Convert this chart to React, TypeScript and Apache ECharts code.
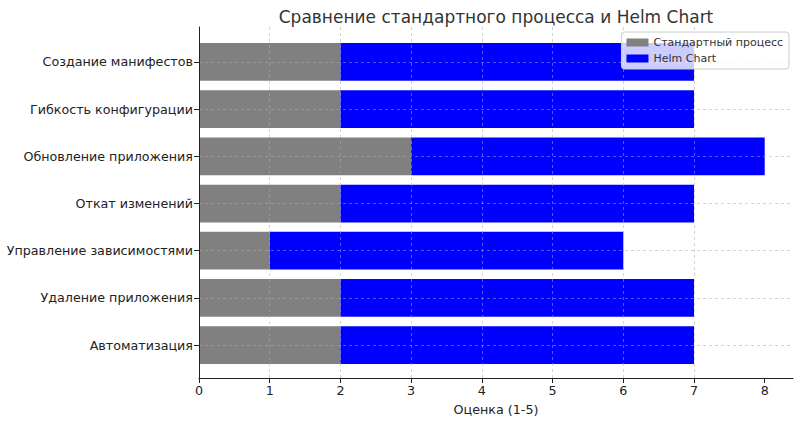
import React, { useEffect, useRef } from "react";
import * as echarts from "echarts";

const categories = [
  "Создание манифестов",
  "Гибкость конфигурации",
  "Обновление приложения",
  "Откат изменений",
  "Управление зависимостями",
  "Удаление приложения",
  "Автоматизация",
];
const standardValues = [2, 2, 3, 2, 1, 2, 2];
const helmValues = [5, 5, 5, 5, 5, 5, 5];
const seriesNames = ["Стандартный процесс", "Helm Chart"];
const xTicks = [0, 1, 2, 3, 4, 5, 6, 7, 8];
const titleText = "Сравнение стандартного процесса и Helm Chart";
const xAxisName = "Оценка (1-5)";

const FONT = "DejaVu Sans";

export default function App() {
  const ref = useRef<HTMLDivElement>(null);
  useEffect(() => {
    document.body.style.margin = "0";
    const chart = echarts.init(ref.current!, null, { renderer: "svg" });
    const lineStyle = { type: [3, 3], color: "rgba(170,170,170,0.65)", width: 0.8 };
    chart.setOption({
      animation: false,
      backgroundColor: "#fff",
      textStyle: { fontFamily: FONT },
      title: {
        text: titleText,
        left: 491,
        textAlign: "center",
        top: 3,
        textStyle: { fontFamily: FONT, fontSize: 17, fontWeight: "normal", color: "#333" },
      },
      legend: {
        orient: "vertical",
        right: 11,
        top: 32,
        padding: [5, 6, 5, 5],
        itemWidth: 22,
        itemHeight: 8,
        itemGap: 5,
        backgroundColor: "rgba(255,255,255,0.8)",
        borderColor: "#cccccc",
        borderWidth: 1,
        borderRadius: 3,
        icon: "rect",
        textStyle: { fontFamily: FONT, fontSize: 11, color: "#333" },
        data: seriesNames,
      },
      grid: [
        { left: 199, right: 7, top: 27, bottom: 41 },
        { left: 199, right: 7, top: 61.9, bottom: 75.9 },
      ],
      xAxis: [
        {
          gridIndex: 0,
          type: "value",
          min: 0,
          max: 8.4,
          interval: 1,
          z: 3,
          name: xAxisName,
          nameLocation: "middle",
          nameGap: 25,
          nameTextStyle: { fontFamily: FONT, fontSize: 12.7, color: "#222" },
          axisLine: { show: true, lineStyle: { color: "#222", width: 1 } },
          axisTick: { show: true, length: 5, customValues: xTicks, lineStyle: { color: "#222" } },
          axisLabel: {
            fontFamily: FONT,
            fontSize: 12.7,
            color: "#222",
            margin: 6,
            customValues: xTicks,
          },
          splitLine: { show: true, showMaxLine: false, lineStyle },
        },
        { gridIndex: 1, type: "value", min: 0, max: 8.4, show: false },
      ],
      yAxis: [
        {
          gridIndex: 0,
          type: "value",
          min: 0,
          max: 1,
          z: 3,
          axisLine: { show: true, lineStyle: { color: "#222", width: 1 } },
          axisTick: { show: false },
          axisLabel: { show: false },
          splitLine: { show: false },
        },
        {
          gridIndex: 1,
          type: "category",
          data: categories,
          inverse: true,
          boundaryGap: false,
          z: 3,
          axisLine: { show: false },
          axisTick: { show: true, length: 5, lineStyle: { color: "#222" } },
          axisLabel: { fontFamily: FONT, fontSize: 12.7, color: "#222", margin: 6 },
          splitLine: { show: true, lineStyle },
        },
      ],
      series: [
        {
          name: seriesNames[0],
          type: "bar",
          stack: "total",
          xAxisIndex: 1,
          yAxisIndex: 1,
          barWidth: 37.75,
          itemStyle: { color: "#808080" },
          data: standardValues,
        },
        {
          name: seriesNames[1],
          type: "bar",
          stack: "total",
          xAxisIndex: 1,
          yAxisIndex: 1,
          barWidth: 37.75,
          itemStyle: { color: "#0000ff" },
          data: helmValues,
        },
      ],
    });
    return () => chart.dispose();
  }, []);
  return <div ref={ref} style={{ width: 800, height: 421 }} />;
}
